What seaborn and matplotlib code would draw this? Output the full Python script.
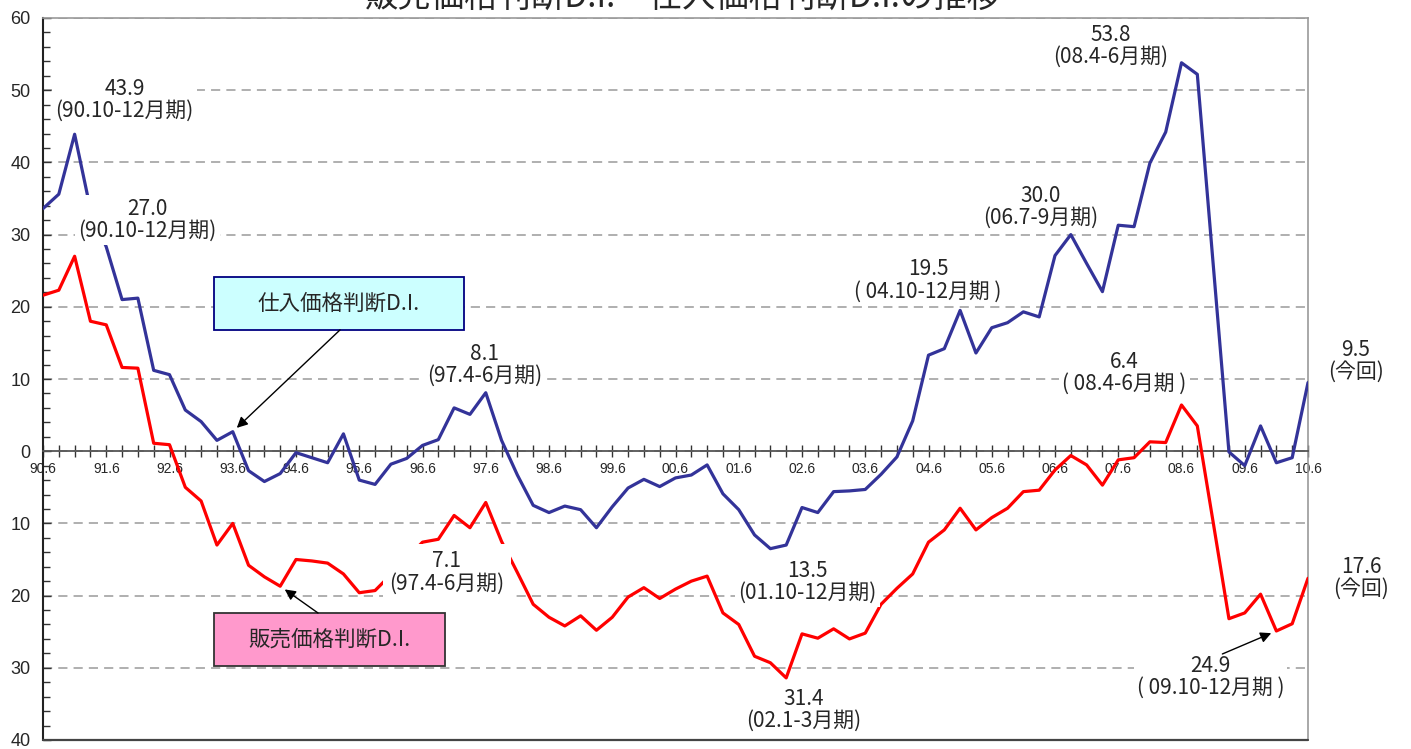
import numpy as np
import pandas as pd
import matplotlib
matplotlib.use('Agg')
import matplotlib.pyplot as plt
import seaborn as sns
from matplotlib.patches import Rectangle
from matplotlib.ticker import MultipleLocator, FixedLocator, FuncFormatter

# quarterly D.I., 90.4-6 .. 10.4-6
buy_di = [33.6, 35.6, 43.9, 33.5, 28.3, 21.0, 21.2, 11.2, 10.6, 5.7,
          4.1, 1.5, 2.7, -2.7, -4.2, -3.1, -0.2, -0.9, -1.6, 2.4,
          -4.0, -4.6, -1.8, -1.0, 0.8, 1.6, 6.0, 5.1, 8.1, 1.5,
          -3.3, -7.5, -8.5, -7.6, -8.1, -10.6, -7.7, -5.1, -3.9, -4.9,
          -3.7, -3.3, -1.9, -5.9, -8.1, -11.6, -13.5, -13.0, -7.8, -8.5,
          -5.6, -5.5, -5.3, -3.2, -0.8, 4.2, 13.3, 14.2, 19.5, 13.6,
          17.1, 17.8, 19.3, 18.6, 27.1, 30.0, 26.0, 22.1, 31.3, 31.1,
          39.9, 44.2, 53.8, 52.2, 26.0, -0.1, -2.0, 3.5, -1.6, -0.9,
          9.5]
sell_di = [21.6, 22.3, 27.0, 18.0, 17.5, 11.6, 11.5, 1.1, 0.9, -5.0,
           -6.9, -13.0, -10.0, -15.8, -17.4, -18.7, -15.0, -15.2, -15.5, -17.0,
           -19.6, -19.3, -17.1, -14.9, -12.6, -12.2, -8.9, -10.6, -7.1, -12.5,
           -16.8, -21.2, -23.0, -24.2, -22.8, -24.8, -23.0, -20.2, -18.9, -20.4,
           -19.1, -18.0, -17.3, -22.4, -24.0, -28.4, -29.3, -31.4, -25.3, -25.9,
           -24.6, -26.0, -25.2, -21.2, -19.0, -17.0, -12.6, -10.9, -7.9, -10.9,
           -9.2, -7.9, -5.6, -5.4, -2.6, -0.6, -1.9, -4.7, -1.2, -0.9,
           1.3, 1.2, 6.4, 3.5, -9.8, -23.2, -22.4, -19.8, -24.9, -23.9,
           -17.6]
tick_labels = ['90.6', '91.6', '92.6', '93.6', '94.6', '95.6', '96.6', '97.6',
               '98.6', '99.6', '00.6', '01.6', '02.6', '03.6', '04.6', '05.6',
               '06.6', '07.6', '08.6', '09.6', '10.6']

sns.set_theme(style='white')
plt.rcParams['font.family'] = ['Noto Sans CJK JP', 'DejaVu Sans']

df = pd.DataFrame({'q': np.arange(len(buy_di)), 'buy': buy_di, 'sell': sell_di})

fig = plt.figure(figsize=(14.11, 7.49), dpi=100)
ax = fig.add_axes([43 / 1411, 1 - 740 / 749, 1265 / 1411, 722 / 749])

sns.lineplot(data=df, x='q', y='buy', color='#333399', lw=2.3, ax=ax, zorder=3)
sns.lineplot(data=df, x='q', y='sell', color='#ff0000', lw=2.3, ax=ax, zorder=3)

ax.set_xlim(0, 80)
ax.set_ylim(-40, 60)
ax.set_xlabel('')
ax.set_ylabel('')

# frame + x axis through zero
ax.spines['bottom'].set_position(('data', 0))
ax.spines['bottom'].set_color('#555555')
ax.spines['bottom'].set_linewidth(1.3)
ax.spines['left'].set_color('#222222')
ax.spines['left'].set_linewidth(1.5)
for s in ['top', 'right']:
    ax.spines[s].set_color('#999999')
    ax.spines[s].set_linewidth(1.2)
ax.axhline(-40, color='#444444', lw=1.6, clip_on=False, zorder=5)

ax.xaxis.set_major_locator(FixedLocator(range(0, 81, 4)))
ax.xaxis.set_minor_locator(MultipleLocator(1))
ax.set_xticklabels(tick_labels)
ax.tick_params(axis='x', which='both', direction='inout', length=9, width=1,
               color='#333333', labelsize=10, pad=3, bottom=True)
for lbl in ax.get_xticklabels():
    lbl.set_fontfamily('Liberation Sans')

ax.yaxis.set_major_locator(MultipleLocator(10))
ax.yaxis.set_minor_locator(MultipleLocator(2))
ax.yaxis.set_major_formatter(FuncFormatter(lambda v, p: f'{abs(int(round(v)))}'))
ax.tick_params(axis='y', which='major', direction='in', length=6, width=1,
               color='#333333', labelsize=13, pad=9, left=True)
ax.tick_params(axis='y', which='minor', direction='in', length=5, width=1,
               color='#333333', left=True)
for lbl in ax.get_yticklabels():
    lbl.set_fontfamily('Liberation Sans')

ax.yaxis.grid(True, linestyle=(0, (6, 4)), color='#9a9a9a', lw=1.1)
ax.xaxis.grid(False)


def label(ix, series, text, dx, dy, pad=0.15):
    ax.annotate(text, xy=(ix, series[ix]), xytext=(dx, dy), textcoords='offset pixels',
                ha='center', va='center', fontsize=15, linespacing=1.0, zorder=6,
                bbox=dict(boxstyle=f'square,pad={pad}', fc='white', ec='none'))


label(2, buy_di, '43.9\n(90.10-12月期)', 50, 34)
label(2, sell_di, '27.0\n(90.10-12月期)', 73, 36)
label(28, buy_di, '8.1\n(97.4-6月期)', -1, 28)
label(28, sell_di, '7.1\n(97.4-6月期)', -39, -70, pad=0.3)
label(46, buy_di, '13.5\n(01.10-12月期)', 37, -33)
label(47, sell_di, '31.4\n(02.1-3月期)', 17, -32)
label(58, buy_di, '19.5\n( 04.10-12月期 )', -32, 30)
label(65, buy_di, '30.0\n(06.7-9月期)', -30, 28)
label(72, buy_di, '53.8\n(08.4-6月期)', -71, 17)
label(72, sell_di, '6.4\n( 08.4-6月期 )', -57, 32)
label(80, buy_di, '9.5\n(今回)', 48, 22)
label(80, sell_di, '17.6\n(今回)', 53, 0)
label(78, sell_di, '24.9\n( 09.10-12月期 )', -66, -46)

arrow = dict(arrowstyle='-|>', color='black', lw=1.0, shrinkA=0, shrinkB=4,
             mutation_scale=16)
ax.annotate('', xy=(78, sell_di[78]), xytext=(-54, -23), textcoords='offset pixels',
            arrowprops=arrow, zorder=6)

# series name boxes
ax.add_patch(Rectangle((0.135, 0.568), 0.198, 0.0734, transform=ax.transAxes,
                       fc='#ccffff', ec='#000080', lw=1.3, zorder=6))
ax.text(0.135 + 0.099, 0.568 + 0.0367, '仕入価格判断D.I.', transform=ax.transAxes,
        ha='center', va='center', fontsize=15.5, zorder=7)
ax.annotate('', xy=(12, buy_di[12]), xytext=(0.2348, 0.568), textcoords='axes fraction',
            arrowprops=arrow, zorder=6)

ax.add_patch(Rectangle((0.135, 0.1025), 0.183, 0.0734, transform=ax.transAxes,
                       fc='#ff99cc', ec='#333333', lw=1.3, zorder=6))
ax.text(0.135 + 0.0915, 0.1025 + 0.0367, '販売価格判断D.I.', transform=ax.transAxes,
        ha='center', va='center', fontsize=15.5, zorder=7)
ax.annotate('', xy=(15, sell_di[15]), xytext=(0.2174, 0.1759), textcoords='axes fraction',
            arrowprops=arrow, zorder=6)

# title sits partly above the canvas, as in the source image
fig.text(683 / 1411, 1 + 3 / 749, '販売価格判断D.I.・仕入価格判断D.I.の推移',
         ha='center', va='center', fontsize=24)

fig.savefig('out.png', dpi=100)
